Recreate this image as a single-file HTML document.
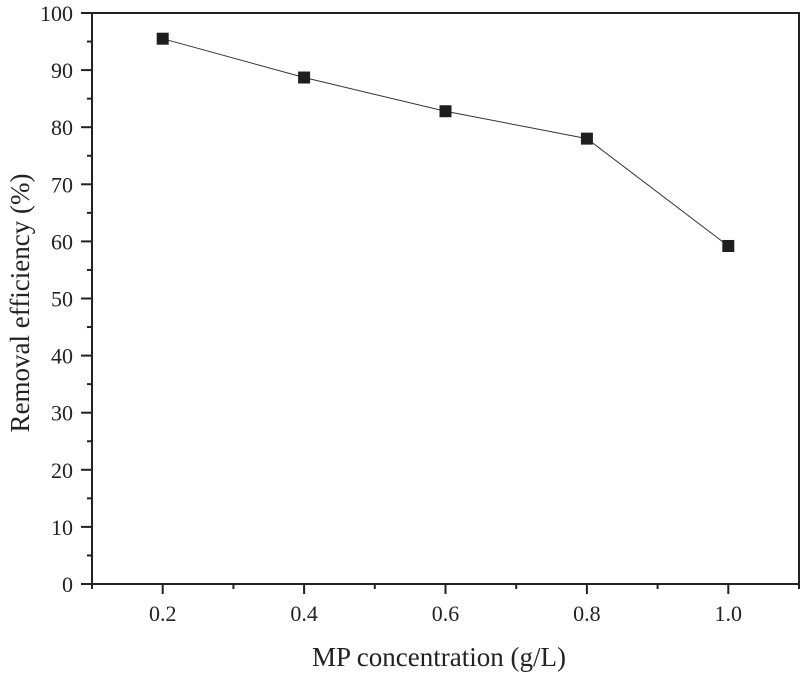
<!DOCTYPE html>
<html><head><meta charset="utf-8"><style>
html,body{margin:0;padding:0;background:#fff;}
svg{display:block;font-family:"Liberation Serif",serif;}
</style></head><body>
<svg id="chart" width="800" height="677"></svg>
<script>
const xValues = [0.2, 0.4, 0.6, 0.8, 1.0];
const yValues = [95.5, 88.7, 82.8, 78.0, 59.2];
const xTickLabels = ["0.2", "0.4", "0.6", "0.8", "1.0"];
const yTickLabels = ["0", "10", "20", "30", "40", "50", "60", "70", "80", "90", "100"];

const L = 92, R = 799, T = 13, B = 584;
const xMin = 0.1, xMax = 1.1, yMin = 0, yMax = 100;
const sx = v => L + (v - xMin) / (xMax - xMin) * (R - L);
const sy = v => B - (v - yMin) / (yMax - yMin) * (B - T);
const NS = "http://www.w3.org/2000/svg";
const svg = document.getElementById('chart');
function mk(tag, attrs, parent) {
  const e = document.createElementNS(NS, tag);
  for (const k in attrs) e.setAttribute(k, attrs[k]);
  (parent || svg).appendChild(e);
  return e;
}
const frame = mk('rect', {x: L, y: T, width: R - L, height: B - T, fill: 'none', stroke: '#222', 'stroke-width': 2});



const yAxis = mk('g', {});


yTickLabels.forEach((lab) => {
  const v = parseFloat(lab);
  const y = sy(v);
  mk('line', {x1: L - 11, x2: L, y1: y, y2: y, stroke: '#222', 'stroke-width': 2}, yAxis);
  const t = mk('text', {x: L - 19, y: y + 8, 'text-anchor': 'end', 'font-size': 22, fill: '#222'}, yAxis);
  t.textContent = lab;
  
  
  if (v < yMax) {
    const ym = sy(v + 5);
    mk('line', {x1: L - 5, x2: L, y1: ym, y2: ym, stroke: '#222', 'stroke-width': 2}, yAxis);
  }
});
const xAxis = mk('g', {});


xTickLabels.forEach((lab) => {
  const v = parseFloat(lab);
  const x = sx(v);
  mk('line', {x1: x, x2: x, y1: B, y2: B + 10, stroke: '#222', 'stroke-width': 2}, xAxis);
  const t = mk('text', {x: x, y: 621, 'text-anchor': 'middle', 'font-size': 22, fill: '#222'}, xAxis);
  t.textContent = lab;
  
  
});
[0.1, 0.3, 0.5, 0.7, 0.9, 1.1].forEach(v => {
  const x = sx(v);
  mk('line', {x1: x, x2: x, y1: B, y2: B + 5, stroke: '#222', 'stroke-width': 2}, xAxis);
});
const xt = mk('text', {x: 439, y: 666, 'text-anchor': 'middle', 'font-size': 27, fill: '#222'});
xt.textContent = 'MP concentration (g/L)';


const yt = mk('text', {x: 0, y: 0, 'text-anchor': 'middle', 'font-size': 27, fill: '#222', transform: 'translate(29,303) rotate(-90)'});
yt.textContent = 'Removal efficiency (%)';


const pts = xValues.map((x, i) => sx(x) + ',' + sy(yValues[i])).join(' ');
const line = mk('polyline', {points: pts, fill: 'none', stroke: '#333', 'stroke-width': 1});


xValues.forEach((x, i) => {
  const p = mk('rect', {x: sx(x) - 6, y: sy(yValues[i]) - 6, width: 12, height: 12, fill: '#1e1e1e'});
  
  
});
</script>
</body></html>
